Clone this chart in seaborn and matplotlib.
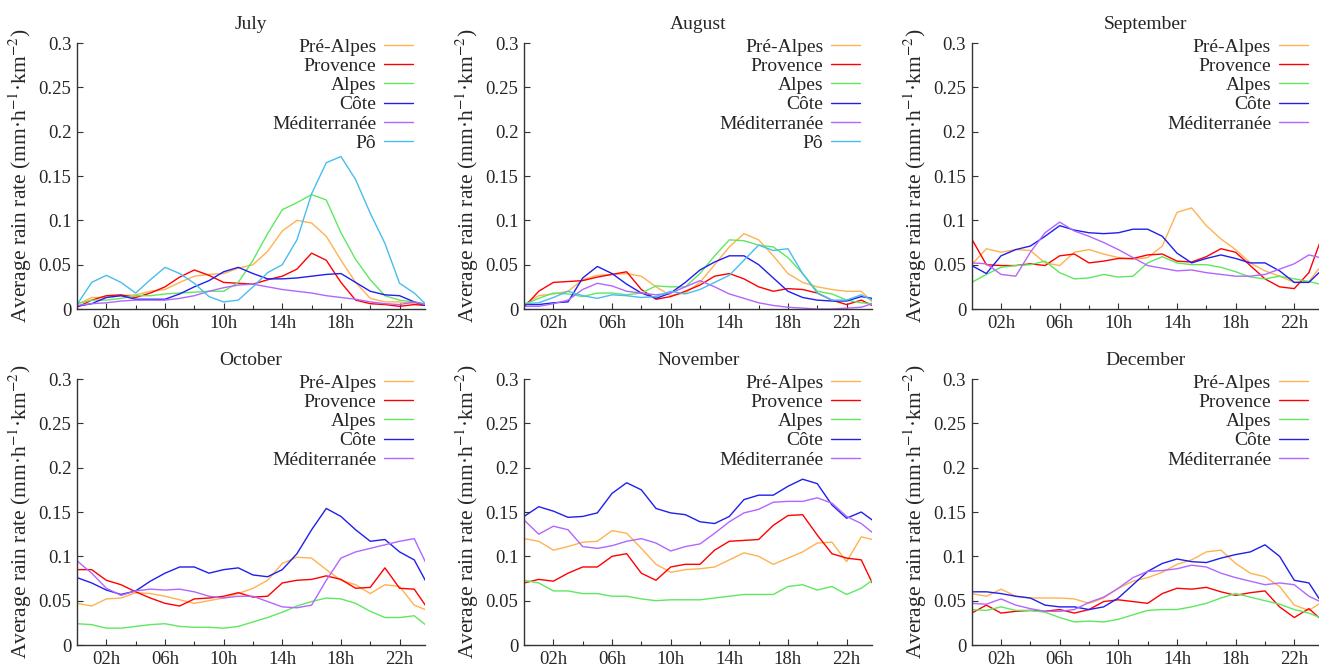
import matplotlib
matplotlib.use("Agg")
import matplotlib.pyplot as plt
import pandas as pd
import seaborn as sns
from matplotlib.ticker import FixedLocator

# hour of day for every reading (last one is the final quarter hour)
hours = [0, 1, 2, 3, 4, 5, 6, 7, 8, 9, 10, 11, 12, 13, 14, 15, 16, 17, 18, 19, 20, 21, 22, 23, 23.75]

regions = ["Pré-Alpes", "Provence", "Alpes", "Côte", "Méditerranée", "Pô"]
colors = {"Pré-Alpes": "#ffb24f", "Provence": "#ff0000", "Alpes": "#5fe85f",
          "Côte": "#1f1fee", "Méditerranée": "#b266ff", "Pô": "#48bdf0"}

july = {
    "Pré-Alpes": [0.005, 0.013, 0.013, 0.015, 0.016, 0.020, 0.022, 0.030, 0.037, 0.039, 0.040, 0.046, 0.050, 0.065, 0.088, 0.100, 0.097, 0.082, 0.055, 0.030, 0.012, 0.008, 0.008, 0.006, 0.005],
    "Provence": [0.002, 0.010, 0.015, 0.016, 0.013, 0.018, 0.025, 0.036, 0.044, 0.038, 0.030, 0.029, 0.028, 0.033, 0.037, 0.045, 0.063, 0.055, 0.030, 0.010, 0.006, 0.005, 0.003, 0.005, 0.004],
    "Alpes": [0.006, 0.010, 0.010, 0.012, 0.015, 0.015, 0.017, 0.018, 0.019, 0.020, 0.020, 0.030, 0.055, 0.085, 0.112, 0.120, 0.129, 0.123, 0.086, 0.056, 0.033, 0.015, 0.010, 0.008, 0.006],
    "Côte": [0.003, 0.006, 0.013, 0.015, 0.011, 0.011, 0.011, 0.017, 0.025, 0.032, 0.042, 0.047, 0.040, 0.034, 0.034, 0.035, 0.037, 0.039, 0.040, 0.030, 0.020, 0.016, 0.015, 0.008, 0.004],
    "Méditerranée": [0.004, 0.006, 0.007, 0.009, 0.010, 0.010, 0.010, 0.012, 0.015, 0.020, 0.024, 0.027, 0.028, 0.025, 0.022, 0.020, 0.018, 0.015, 0.013, 0.011, 0.008, 0.006, 0.005, 0.008, 0.005],
    "Pô": [0.005, 0.030, 0.038, 0.030, 0.018, 0.033, 0.047, 0.040, 0.029, 0.014, 0.008, 0.010, 0.025, 0.041, 0.050, 0.078, 0.130, 0.165, 0.172, 0.146, 0.108, 0.074, 0.029, 0.018, 0.006],
}
august = {
    "Pré-Alpes": [0.005, 0.015, 0.017, 0.020, 0.033, 0.038, 0.039, 0.040, 0.037, 0.025, 0.015, 0.018, 0.030, 0.050, 0.070, 0.085, 0.078, 0.060, 0.040, 0.030, 0.025, 0.022, 0.020, 0.020, 0.008],
    "Provence": [0.002, 0.020, 0.030, 0.031, 0.032, 0.036, 0.039, 0.042, 0.022, 0.011, 0.014, 0.020, 0.027, 0.037, 0.040, 0.034, 0.025, 0.020, 0.023, 0.022, 0.018, 0.010, 0.005, 0.010, 0.004],
    "Alpes": [0.005, 0.012, 0.018, 0.017, 0.014, 0.018, 0.018, 0.016, 0.018, 0.026, 0.025, 0.025, 0.040, 0.060, 0.078, 0.077, 0.072, 0.070, 0.058, 0.040, 0.020, 0.017, 0.010, 0.007, 0.006],
    "Côte": [0.005, 0.005, 0.007, 0.008, 0.035, 0.048, 0.040, 0.028, 0.018, 0.012, 0.018, 0.030, 0.044, 0.053, 0.060, 0.060, 0.050, 0.035, 0.020, 0.013, 0.010, 0.009, 0.009, 0.014, 0.012],
    "Méditerranée": [0.003, 0.003, 0.006, 0.010, 0.022, 0.029, 0.026, 0.020, 0.018, 0.016, 0.018, 0.025, 0.032, 0.025, 0.017, 0.012, 0.007, 0.004, 0.002, 0.001, 0.000, 0.000, 0.001, 0.002, 0.006],
    "Pô": [0.006, 0.007, 0.013, 0.020, 0.015, 0.012, 0.016, 0.015, 0.013, 0.014, 0.020, 0.017, 0.022, 0.030, 0.038, 0.055, 0.072, 0.066, 0.068, 0.040, 0.018, 0.010, 0.010, 0.016, 0.010],
}
september = {
    "Pré-Alpes": [0.050, 0.068, 0.064, 0.067, 0.066, 0.052, 0.049, 0.064, 0.067, 0.062, 0.058, 0.056, 0.058, 0.071, 0.109, 0.114, 0.094, 0.079, 0.067, 0.052, 0.043, 0.037, 0.030, 0.031, 0.047],
    "Provence": [0.079, 0.050, 0.049, 0.049, 0.051, 0.049, 0.060, 0.062, 0.052, 0.054, 0.057, 0.057, 0.061, 0.062, 0.054, 0.053, 0.059, 0.068, 0.064, 0.049, 0.034, 0.025, 0.023, 0.041, 0.075],
    "Alpes": [0.030, 0.039, 0.047, 0.049, 0.050, 0.054, 0.041, 0.034, 0.035, 0.039, 0.036, 0.037, 0.052, 0.059, 0.052, 0.050, 0.050, 0.047, 0.042, 0.036, 0.034, 0.037, 0.034, 0.031, 0.028],
    "Côte": [0.049, 0.040, 0.060, 0.067, 0.071, 0.082, 0.094, 0.089, 0.086, 0.085, 0.086, 0.090, 0.090, 0.082, 0.063, 0.052, 0.057, 0.061, 0.057, 0.052, 0.052, 0.043, 0.030, 0.030, 0.042],
    "Méditerranée": [0.052, 0.051, 0.039, 0.037, 0.064, 0.086, 0.098, 0.088, 0.082, 0.075, 0.067, 0.058, 0.049, 0.046, 0.043, 0.044, 0.041, 0.039, 0.037, 0.037, 0.039, 0.045, 0.051, 0.061, 0.058],
}
october = {
    "Pré-Alpes": [0.047, 0.044, 0.052, 0.053, 0.059, 0.058, 0.055, 0.051, 0.047, 0.050, 0.053, 0.058, 0.064, 0.073, 0.092, 0.099, 0.098, 0.085, 0.073, 0.068, 0.058, 0.068, 0.066, 0.045, 0.040],
    "Provence": [0.085, 0.085, 0.073, 0.068, 0.060, 0.053, 0.047, 0.044, 0.052, 0.053, 0.055, 0.059, 0.054, 0.055, 0.070, 0.073, 0.074, 0.078, 0.074, 0.064, 0.065, 0.087, 0.064, 0.063, 0.045],
    "Alpes": [0.024, 0.023, 0.019, 0.019, 0.021, 0.023, 0.024, 0.021, 0.020, 0.020, 0.019, 0.021, 0.026, 0.031, 0.037, 0.044, 0.049, 0.053, 0.052, 0.047, 0.038, 0.031, 0.031, 0.033, 0.023],
    "Côte": [0.076, 0.070, 0.062, 0.057, 0.061, 0.072, 0.081, 0.088, 0.088, 0.081, 0.085, 0.087, 0.079, 0.077, 0.085, 0.103, 0.130, 0.154, 0.145, 0.130, 0.117, 0.119, 0.105, 0.096, 0.073],
    "Méditerranée": [0.095, 0.081, 0.064, 0.056, 0.061, 0.063, 0.062, 0.063, 0.060, 0.055, 0.053, 0.055, 0.055, 0.049, 0.043, 0.042, 0.045, 0.073, 0.098, 0.105, 0.109, 0.113, 0.117, 0.120, 0.094],
}
november = {
    "Pré-Alpes": [0.120, 0.117, 0.107, 0.111, 0.116, 0.117, 0.129, 0.126, 0.109, 0.091, 0.082, 0.085, 0.086, 0.088, 0.096, 0.104, 0.100, 0.091, 0.098, 0.105, 0.115, 0.116, 0.094, 0.122, 0.119],
    "Provence": [0.070, 0.074, 0.072, 0.081, 0.088, 0.088, 0.100, 0.103, 0.081, 0.073, 0.088, 0.091, 0.091, 0.107, 0.117, 0.118, 0.119, 0.135, 0.146, 0.147, 0.124, 0.103, 0.098, 0.096, 0.070],
    "Alpes": [0.073, 0.070, 0.061, 0.061, 0.058, 0.058, 0.055, 0.055, 0.052, 0.050, 0.051, 0.051, 0.051, 0.053, 0.055, 0.057, 0.057, 0.057, 0.066, 0.068, 0.062, 0.066, 0.057, 0.064, 0.073],
    "Côte": [0.145, 0.156, 0.151, 0.144, 0.145, 0.149, 0.171, 0.183, 0.175, 0.154, 0.149, 0.147, 0.139, 0.137, 0.145, 0.164, 0.169, 0.169, 0.179, 0.187, 0.182, 0.158, 0.143, 0.150, 0.141],
    "Méditerranée": [0.141, 0.125, 0.134, 0.130, 0.111, 0.109, 0.112, 0.117, 0.120, 0.115, 0.106, 0.111, 0.114, 0.126, 0.139, 0.149, 0.153, 0.161, 0.162, 0.162, 0.166, 0.160, 0.145, 0.137, 0.127],
}
december = {
    "Pré-Alpes": [0.058, 0.055, 0.063, 0.055, 0.053, 0.053, 0.053, 0.052, 0.047, 0.053, 0.064, 0.072, 0.076, 0.082, 0.091, 0.096, 0.105, 0.107, 0.092, 0.081, 0.077, 0.066, 0.045, 0.039, 0.047],
    "Provence": [0.036, 0.045, 0.036, 0.038, 0.039, 0.038, 0.040, 0.036, 0.040, 0.049, 0.051, 0.049, 0.047, 0.058, 0.064, 0.063, 0.065, 0.060, 0.056, 0.059, 0.061, 0.043, 0.031, 0.041, 0.030],
    "Alpes": [0.040, 0.039, 0.043, 0.039, 0.039, 0.037, 0.031, 0.026, 0.027, 0.026, 0.029, 0.034, 0.039, 0.040, 0.040, 0.043, 0.047, 0.053, 0.058, 0.054, 0.050, 0.046, 0.040, 0.036, 0.031],
    "Côte": [0.060, 0.060, 0.058, 0.055, 0.053, 0.045, 0.043, 0.043, 0.040, 0.043, 0.053, 0.068, 0.083, 0.092, 0.097, 0.094, 0.093, 0.098, 0.102, 0.105, 0.113, 0.100, 0.073, 0.070, 0.051],
    "Méditerranée": [0.047, 0.046, 0.052, 0.045, 0.041, 0.038, 0.038, 0.040, 0.048, 0.054, 0.064, 0.076, 0.083, 0.084, 0.086, 0.090, 0.088, 0.081, 0.076, 0.072, 0.068, 0.070, 0.068, 0.055, 0.049],
}

months = [("July", july), ("August", august), ("September", september),
          ("October", october), ("November", november), ("December", december)]

xticks = [2, 6, 10, 14, 18, 22]
xticklabels = ["02h", "06h", "10h", "14h", "18h", "22h"]
yticks = [0, 0.05, 0.1, 0.15, 0.2, 0.25, 0.3]
yticklabels = ["0", "0.05", "0.1", "0.15", "0.2", "0.25", "0.3"]

sns.set_style("ticks")
plt.rcParams["font.family"] = ["Liberation Serif", "DejaVu Serif"]
plt.rcParams["mathtext.fontset"] = "stix"

fig = plt.figure(figsize=(13.19, 6.70), dpi=100)
lefts = [0.0584, 0.3973, 0.7367]
bottoms = [0.5388, 0.0373]

for i, (name, data) in enumerate(months):
    ax = fig.add_axes([lefts[i % 3], bottoms[i // 3], 0.264, 0.397])
    rows = []
    for reg in regions:
        if reg in data:
            for h, v in zip(hours, data[reg]):
                rows.append({"hour": h, "rate": v, "region": reg})
    df = pd.DataFrame(rows)
    order = [r for r in regions if r in data]
    sns.lineplot(data=df, x="hour", y="rate", hue="region", hue_order=order,
                 palette=colors, linewidth=1.0, ax=ax, legend=False)
    ax.set_xlim(0, 23.75)
    ax.set_ylim(0, 0.3)
    ax.set_xticks(xticks)
    ax.set_xticklabels(xticklabels)
    ax.xaxis.set_minor_locator(FixedLocator([4, 8, 12, 16, 20]))
    ax.set_yticks(yticks)
    ax.set_yticklabels(yticklabels)
    ax.tick_params(which="both", direction="in", labelsize=13.5, pad=4, width=0.8, color="#333333")
    ax.tick_params(which="major", length=4)
    ax.tick_params(which="minor", length=3)
    for s in ["top", "right"]:
        ax.spines[s].set_visible(False)
    for s in ["left", "bottom"]:
        ax.spines[s].set_linewidth(1.0)
        ax.spines[s].set_color("#333333")
    ax.set_xlabel("")
    ax.set_ylabel("Average rain rate (mm·h$^{-1}$·km$^{-2}$)", fontsize=15.5, labelpad=3)
    ax.set_title(name, fontsize=14, pad=10)
    ax.legend(ax.get_lines(), order, loc="upper right", bbox_to_anchor=(0.966, 1.018),
              frameon=False, markerfirst=False, fontsize=14, labelspacing=0.08,
              handlelength=1.5, handletextpad=0.4, borderpad=0, borderaxespad=0)

fig.savefig("out.png", dpi=100)
